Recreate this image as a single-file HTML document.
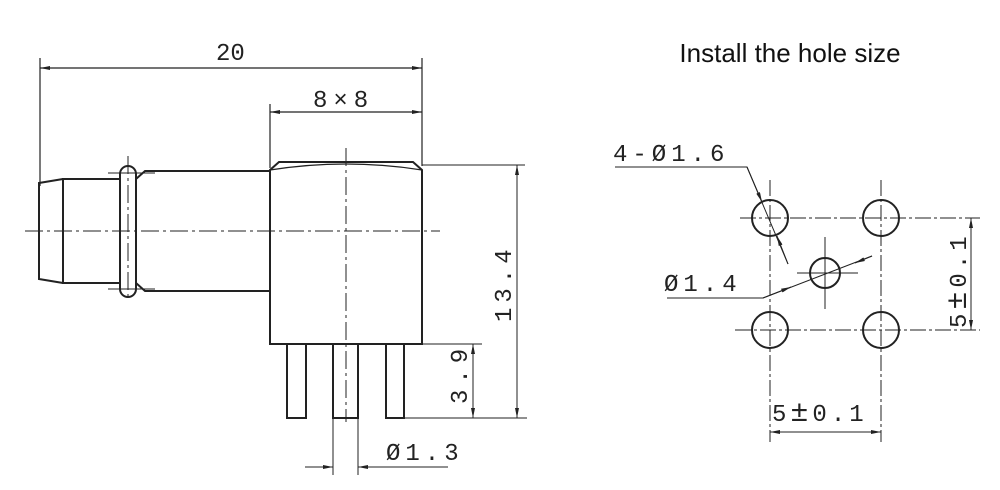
<!DOCTYPE html>
<html><head><meta charset="utf-8"><style>
html,body{margin:0;padding:0;background:#fff}
svg{display:block}
.t{font-family:"Liberation Mono","Noto Sans CJK SC",monospace;font-size:24px;fill:#222}
.pm{font-size:30px}
</style></head><body>
<svg width="1000" height="490" viewBox="0 0 1000 490" xmlns="http://www.w3.org/2000/svg">
<defs>
<marker id="a" viewBox="0 0 10 4" refX="10" refY="2" markerWidth="10" markerHeight="4" orient="auto-start-reverse" markerUnits="userSpaceOnUse"><path d="M0,0 L10,2 L0,4z" fill="#222"/></marker>
</defs>
<g stroke="#222" fill="none" stroke-width="1.2">
<line x1="40" y1="58" x2="40" y2="186"/>
<line x1="422" y1="58" x2="422" y2="166"/>
<line x1="40" y1="68" x2="422" y2="68" marker-start="url(#a)" marker-end="url(#a)"/>
<line x1="270" y1="104" x2="270" y2="168"/>
<line x1="270" y1="112" x2="422" y2="112" marker-start="url(#a)" marker-end="url(#a)"/>
</g>
<g stroke="#222" fill="none" stroke-width="2">
<path d="M270,344 L270,170 L279,162 L413,162 L422,170 L422,344 Z"/>
<path d="M270,170 Q346,158 422,170" stroke-width="1.2"/>
<path d="M136,179 L145,171 L270,171 M136,283 L145,291 L270,291"/>
<rect x="120" y="166" width="16" height="131" rx="8"/>
<path d="M120,179 L63,179 L63,283 L120,283"/>
<path d="M63,179 L39,183 L39,279 L63,283"/>
<rect x="287" y="344" width="19" height="74"/>
<rect x="333" y="344" width="25" height="74"/>
<rect x="386" y="344" width="18" height="74"/>
</g>
<g stroke="#222" fill="none" stroke-width="1">
<line x1="25" y1="231" x2="440" y2="231" stroke-dasharray="18,4,3,4"/>
<line x1="346" y1="148" x2="346" y2="422" stroke-dasharray="18,4,3,4"/>
<line x1="128" y1="156" x2="128" y2="300" stroke-dasharray="18,4,3,4"/>
<line x1="108" y1="173" x2="155" y2="173"/>
<line x1="108" y1="289" x2="155" y2="289"/>
<line x1="404" y1="344" x2="482" y2="344"/>
<line x1="404" y1="418" x2="527" y2="418"/>
<line x1="473" y1="344" x2="473" y2="418" marker-start="url(#a)" marker-end="url(#a)"/>
<line x1="422" y1="165" x2="525" y2="165"/>
<line x1="517" y1="165" x2="517" y2="418" marker-start="url(#a)" marker-end="url(#a)"/>
<line x1="333" y1="418" x2="333" y2="475"/>
<line x1="358" y1="418" x2="358" y2="475"/>
<line x1="305" y1="467" x2="333" y2="467" marker-end="url(#a)"/>
<line x1="385" y1="467" x2="358" y2="467" marker-end="url(#a)"/>
<line x1="385" y1="467" x2="448" y2="467"/>
</g>
<text class="t" x="216" y="60">20</text>
<text class="t" x="313" y="107" style="letter-spacing:6px">8×8</text>
<text class="t" x="386" y="460" style="letter-spacing:5px">Ø1.3</text>
<text class="t" transform="translate(467,404) rotate(-90)" style="letter-spacing:6px">3.9</text>
<text class="t" transform="translate(511,322) rotate(-90)" style="letter-spacing:5px">13.4</text>

<text x="790" y="62" text-anchor="middle" style="font-family:'Liberation Sans',sans-serif;font-size:26px;fill:#111">Install the hole size</text>
<g stroke="#222" fill="none" stroke-width="1">
<g stroke-dasharray="16,3,3,3">
<line x1="770" y1="180" x2="770" y2="442"/>
<line x1="881" y1="180" x2="881" y2="442"/>
<line x1="740" y1="218" x2="980" y2="218"/>
<line x1="735" y1="330" x2="980" y2="330"/>
</g>
<line x1="825" y1="237" x2="825" y2="309"/>
<line x1="797" y1="273" x2="858" y2="273"/>
<line x1="971" y1="218" x2="971" y2="330" marker-start="url(#a)" marker-end="url(#a)"/>
<line x1="770" y1="432" x2="881" y2="432" marker-start="url(#a)" marker-end="url(#a)"/>
<path d="M615,167 L747,167 L788,264"/>
<line x1="747" y1="167" x2="762" y2="202" marker-end="url(#a)"/>
<line x1="788" y1="264" x2="777" y2="236" marker-end="url(#a)"/>
<path d="M667,298 L763,298 L872,256"/>
<line x1="763" y1="298" x2="791" y2="287" marker-end="url(#a)"/>
<line x1="872" y1="256" x2="855" y2="263" marker-end="url(#a)"/>
</g>
<g stroke="#222" fill="none" stroke-width="2">
<circle cx="770" cy="218" r="18"/>
<circle cx="881" cy="218" r="18"/>
<circle cx="770" cy="330" r="18"/>
<circle cx="881" cy="330" r="18"/>
<circle cx="825" cy="273" r="15"/>
</g>
<text class="t" x="613" y="161" style="letter-spacing:5px">4-Ø1.6</text>
<text class="t" x="664" y="291" style="letter-spacing:5px">Ø1.4</text>
<text class="t" x="772" y="421" style="letter-spacing:4px">5<tspan class="pm">±</tspan>0.1</text>
<text class="t" transform="translate(966,328) rotate(-90)" style="letter-spacing:4px">5<tspan class="pm">±</tspan>0.1</text>
</svg>
</body></html>
